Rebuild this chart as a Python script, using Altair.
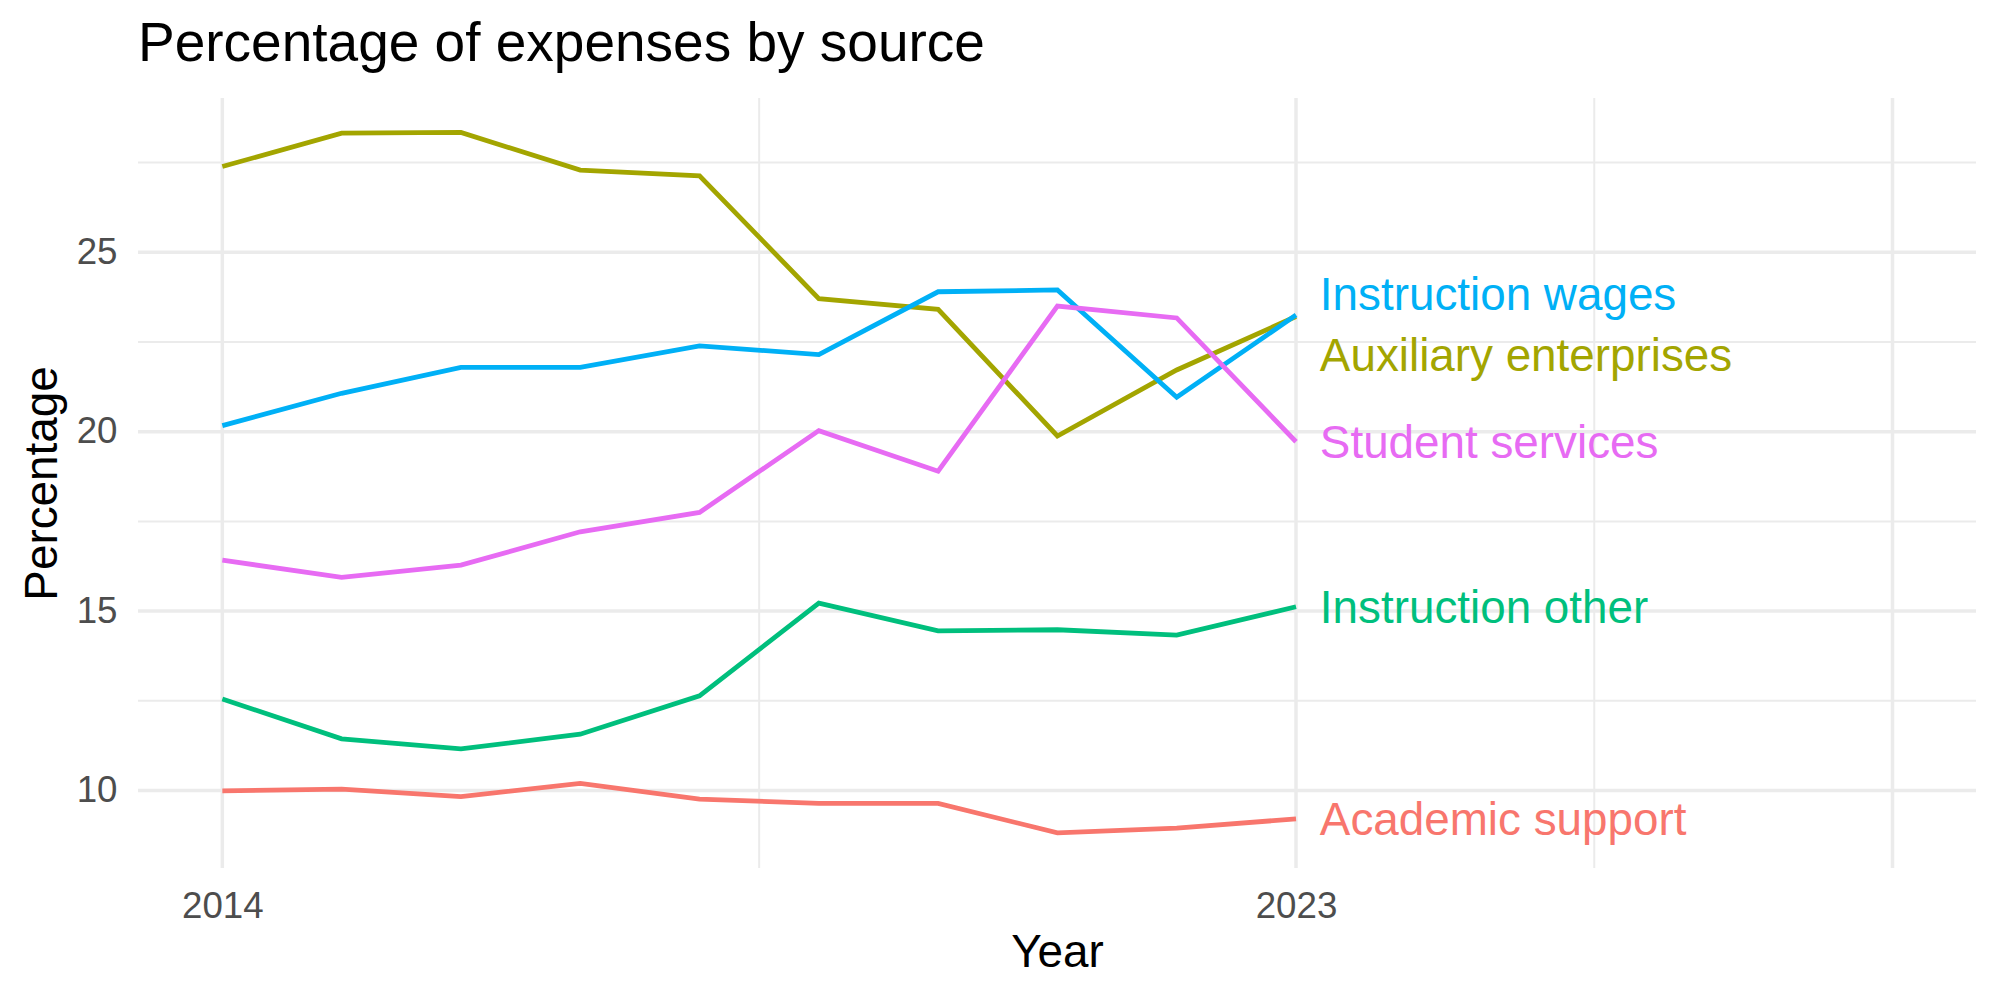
import altair as alt
import pandas as pd

# Share of expenses (%) by source, 2014-2023
years = list(range(2014, 2024))
academic_support = [9.99, 10.04, 9.83, 10.20, 9.76, 9.64, 9.64, 8.82, 8.95, 9.21]
auxiliary_enterprises = [27.39, 28.32, 28.34, 27.29, 27.13, 23.71, 23.41, 19.88, 21.72, 23.21]
instruction_other = [12.55, 11.44, 11.16, 11.57, 12.64, 15.22, 14.45, 14.48, 14.33, 15.12]
instruction_wages = [20.17, 21.07, 21.79, 21.79, 22.39, 22.15, 23.90, 23.95, 20.96, 23.25]
student_services = [16.42, 15.94, 16.28, 17.21, 17.75, 20.03, 18.90, 23.50, 23.17, 19.72]

sources = ["Academic support", "Auxiliary enterprises", "Instruction other",
           "Instruction wages", "Student services"]
series = [academic_support, auxiliary_enterprises, instruction_other,
          instruction_wages, student_services]
colors = ["#F8766D", "#A3A500", "#00BF7D", "#00B0F6", "#E76BF3"]

# gridline positions
major_x = [2014, 2023, 2028]
minor_x = [2018.5, 2025.5]
major_y = [10, 15, 20, 25]
minor_y = [12.5, 17.5, 22.5, 27.5]

# vertical shifts that keep the end labels apart
label_shift = {"Instruction wages": 0.6, "Auxiliary enterprises": -1.07}
label_nudge_x = 0.2

FONT = "Liberation Sans"
GRID = "#EBEBEB"

long_df = pd.DataFrame(
    [{"Year": y, "Percentage": v, "Source": s}
     for s, vals in zip(sources, series) for y, v in zip(years, vals)]
)
label_df = pd.DataFrame({
    "Source": sources,
    "Year": [years[-1] + label_nudge_x] * len(sources),
    "Percentage": [vals[-1] + label_shift.get(s, 0.0) for s, vals in zip(sources, series)],
})

x_scale = alt.Scale(domain=[2013.293, 2028.70], nice=False, zero=False)
y_scale = alt.Scale(domain=[7.84, 29.30], nice=False, zero=False)
color_scale = alt.Scale(domain=sources, range=colors)

x_axis = alt.Axis(values=[2014, 2023], format="d", grid=False, ticks=False, domain=False,
                  labelPadding=20, titlePadding=6, title="Year")
y_axis = alt.Axis(values=major_y, grid=False, ticks=False, domain=False,
                  labelPadding=21, titlePadding=10, title="Percentage")

vmajor = alt.Chart(pd.DataFrame({"g": major_x})).mark_rule(color=GRID, strokeWidth=3.5).encode(
    x=alt.X("g:Q", scale=x_scale, axis=x_axis, title="Year"))
vminor = alt.Chart(pd.DataFrame({"g": minor_x})).mark_rule(color=GRID, strokeWidth=2).encode(
    x=alt.X("g:Q", scale=x_scale, axis=x_axis, title="Year"))
hmajor = alt.Chart(pd.DataFrame({"g": major_y})).mark_rule(color=GRID, strokeWidth=3.5).encode(
    y=alt.Y("g:Q", scale=y_scale, axis=y_axis, title="Percentage"))
hminor = alt.Chart(pd.DataFrame({"g": minor_y})).mark_rule(color=GRID, strokeWidth=2).encode(
    y=alt.Y("g:Q", scale=y_scale, axis=y_axis, title="Percentage"))

lines = alt.Chart(long_df).mark_line(strokeWidth=4.8).encode(
    x=alt.X("Year:Q", scale=x_scale, axis=x_axis, title="Year"),
    y=alt.Y("Percentage:Q", scale=y_scale, axis=y_axis, title="Percentage"),
    color=alt.Color("Source:N", scale=color_scale, legend=None),
    detail="Source:N",
)

labels = alt.Chart(label_df).mark_text(
    align="left", baseline="alphabetic", dy=16, fontSize=45.8, font=FONT
).encode(
    x=alt.X("Year:Q", scale=x_scale, axis=x_axis, title="Year"),
    y=alt.Y("Percentage:Q", scale=y_scale, axis=y_axis, title="Percentage"),
    text="Source:N",
    color=alt.Color("Source:N", scale=color_scale, legend=None),
)

chart = alt.layer(vminor, vmajor, hminor, hmajor, lines, labels).properties(
    width=1838,
    height=770,
    background="white",
    autosize=alt.AutoSizeParams(type="none"),
    padding={"left": 138, "top": 98, "right": 24, "bottom": 132},
    title=alt.TitleParams(
        "Percentage of expenses by source", anchor="start", frame="group", fontSize=55,
        font=FONT, fontWeight="normal", color="black", baseline="alphabetic", offset=-20,
    ),
).configure_view(stroke=None).configure_axis(
    labelFont=FONT, labelFontSize=36.7, labelColor="#4D4D4D",
    titleFont=FONT, titleFontSize=45.8, titleColor="black", titleFontWeight="normal",
)

chart.save("out.html", embed_options={"renderer": "svg", "actions": False})
